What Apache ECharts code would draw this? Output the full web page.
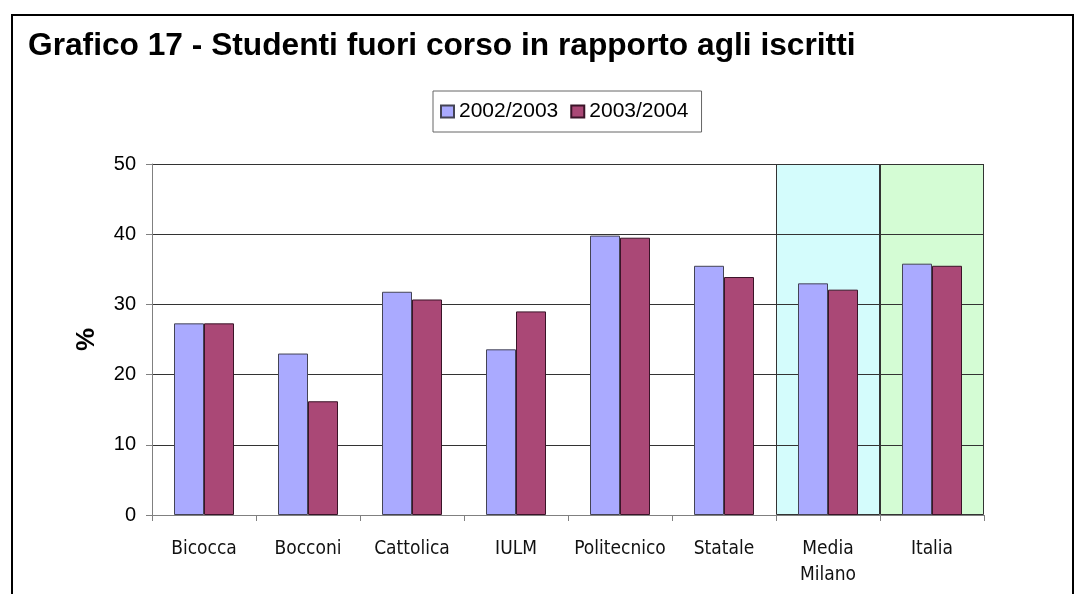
<!DOCTYPE html>
<html>
<head>
<meta charset="utf-8">
<title>Grafico 17</title>
<script src="https://cdn.jsdelivr.net/npm/echarts@6/dist/echarts.min.js"></script>
<style>
  html, body { margin: 0; padding: 0; background: #fff; }
  #chart { width: 1078px; height: 594px; }
</style>
</head>
<body>
<div id="chart"></div>
<script>
// dati
const categories = ['Bicocca', 'Bocconi', 'Cattolica', 'IULM', 'Politecnico', 'Statale', 'Media\nMilano', 'Italia']
const anno2002 = [27.3, 23.0, 31.8, 23.6, 39.8, 35.5, 33.0, 35.8]
const anno2003 = [27.3, 16.2, 30.7, 29.0, 39.5, 33.9, 32.1, 35.5]
const seriesNames = ['2002/2003', '2003/2004']
// fasce evidenziate (Media Milano, Italia)
const shadeValues = [null, null, null, null, null, null, 50, 50]
const shadeColors = ['#d4fcfc', '#d4fcd4']
const yTicks = { min: 0, max: 50, interval: 10 }

const chart = echarts.init(document.getElementById('chart'), null, { renderer: 'canvas' })

const axisFont = 'Liberation Sans, Arial, sans-serif'

const option = {
  animation: false,
  title: {
    text: 'Grafico 17 - Studenti fuori corso in rapporto agli iscritti',
    left: 28,
    top: 30,
    padding: 0,
    textStyle: {
      fontFamily: axisFont,
      fontWeight: 'bold',
      fontSize: 31.7,
      color: '#000'
    }
  },
  legend: {
    data: seriesNames,
    left: 433,
    top: 91,
    padding: [10, 13, 10, 7],
    borderColor: '#666',
    borderWidth: 1,
    itemWidth: 13,
    itemHeight: 12,
    itemGap: 12,
    icon: 'rect',
    textStyle: {
      fontFamily: axisFont,
      fontSize: 21,
      color: '#000'
    }
  },
  graphic: [
    {
      type: 'rect',
      shape: { x: 12, y: 15, width: 1061, height: 620 },
      style: { fill: 'none', stroke: '#000', lineWidth: 2 },
      silent: true
    }
  ],
  grid: {
    left: 152,
    right: 94,
    top: 164,
    bottom: 79
  },
  xAxis: [
    {
      type: 'category',
      data: categories,
      axisLine: { lineStyle: { color: '#808080', width: 1 } },
      axisTick: { show: true, interval: 0, length: 6, lineStyle: { color: '#808080' } },
      axisLabel: {
        interval: 0,
        fontFamily: 'DejaVu Sans Condensed, DejaVu Sans, sans-serif',
        fontSize: 19,
        lineHeight: 26,
        color: '#111',
        margin: 21
      },
      splitLine: { show: false }
    },
    {
      type: 'category',
      data: categories,
      show: false
    }
  ],
  yAxis: {
    type: 'value',
    min: yTicks.min,
    max: yTicks.max,
    interval: yTicks.interval,
    name: '%',
    nameLocation: 'middle',
    nameGap: 52,
    nameTextStyle: {
      fontFamily: axisFont,
      fontWeight: 'bold',
      fontSize: 26,
      color: '#000'
    },
    axisLine: { show: true, lineStyle: { color: '#808080', width: 1 } },
    axisTick: { show: true, length: 6, lineStyle: { color: '#808080' } },
    axisLabel: {
      fontFamily: axisFont,
      fontSize: 20,
      color: '#000',
      margin: 16
    },
    splitLine: { show: true, lineStyle: { color: '#333', width: 1 } }
  },
  series: [
    {
      name: 'sfondo',
      type: 'bar',
      xAxisIndex: 1,
      barWidth: '100%',
      z: -1,
      silent: true,
      data: shadeValues.map((v, i) => ({
        value: v,
        itemStyle: { color: shadeColors[i - 6] }
      })),
      itemStyle: { borderColor: '#333', borderWidth: 1 }
    },
    {
      name: seriesNames[0],
      type: 'bar',
      barWidth: 30,
      barGap: '0%',
      data: anno2002,
      itemStyle: { color: '#aaaaff', borderColor: '#444455', borderWidth: 1 }
    },
    {
      name: seriesNames[1],
      type: 'bar',
      barWidth: 30,
      barGap: '0%',
      data: anno2003,
      itemStyle: { color: '#aa4876', borderColor: '#3a1428', borderWidth: 1 }
    }
  ]
}

chart.setOption(option)
window.addEventListener('resize', () => chart.resize())
</script>
</body>
</html>
